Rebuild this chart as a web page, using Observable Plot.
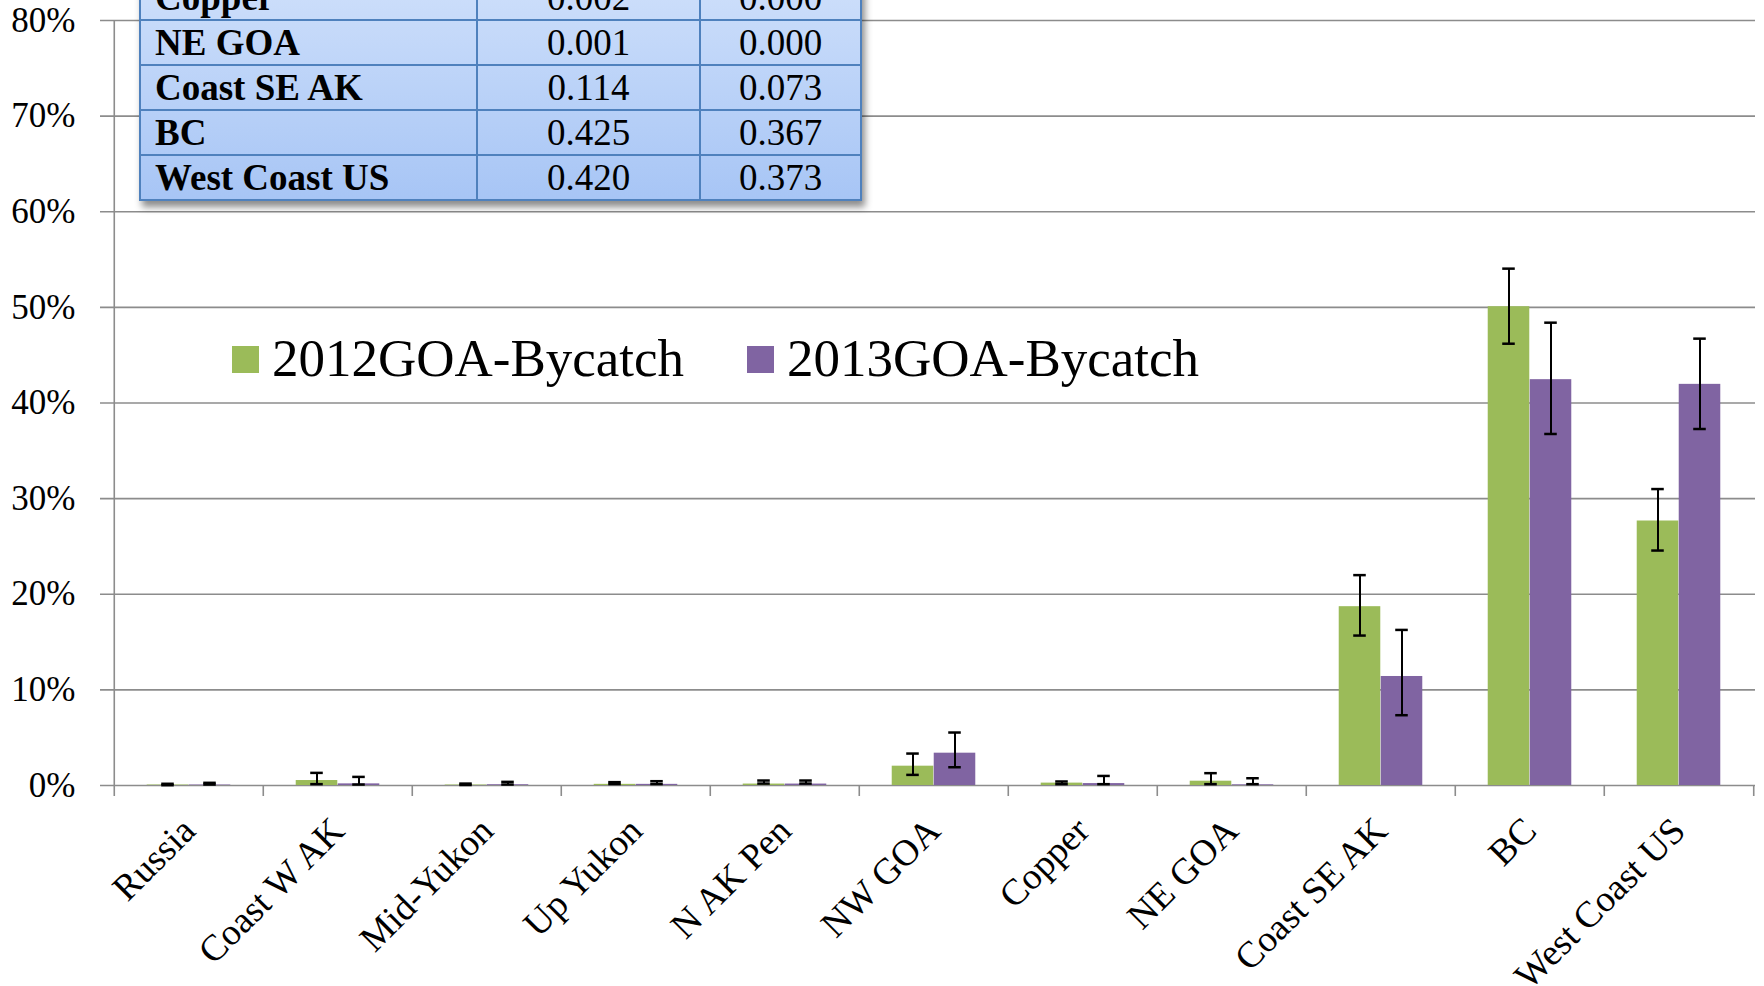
<!DOCTYPE html>
<html>
<head>
<meta charset="utf-8">
<script src="https://cdn.jsdelivr.net/npm/d3@7"></script>
<script src="https://cdn.jsdelivr.net/npm/@observablehq/plot@0.6"></script>
<style>
  html, body { margin: 0; padding: 0; background: #fff; }
  #wrap { position: relative; width: 1764px; height: 986px; overflow: hidden;
          font-family: "Liberation Serif", "Times New Roman", serif; }
  #chart { position: absolute; left: 0; top: 0; }
  #tbl { position: absolute; left: 139px; top: -26px; border-collapse: collapse; table-layout: fixed;
         background: linear-gradient(#cfe0fb, #a7c5f5); box-shadow: 3px 6px 7px rgba(0,0,0,0.45);
         font-size: 37px; color: #000; }
  #tbl td { border: 2px solid #4f81bd; height: 43px; padding: 0; line-height: 43px; white-space: nowrap; overflow: hidden; }
  #tbl td.n { font-weight: bold; padding-left: 14px; }
  #tbl td.v { text-align: center; }
  #legend { position: absolute; left: 0; top: 0; font-size: 53px; line-height: 53px; }
  .sw { position: absolute; width: 27px; height: 27px; }
  .lt { position: absolute; white-space: nowrap; }
</style>
</head>
<body>
<div id="wrap">
  <div id="chart"></div>
  <table id="tbl"><colgroup><col style="width:337px"><col style="width:223px"><col style="width:161px"></colgroup><tbody></tbody></table>
  <div id="legend"></div>
</div>
<script>
// ---- data ----
const categories = ["Russia", "Coast W AK", "Mid-Yukon", "Up Yukon", "N AK Pen", "NW GOA", "Copper", "NE GOA", "Coast SE AK", "BC", "West Coast US"];
const series = ["2012GOA-Bycatch", "2013GOA-Bycatch"];
const colors = ["#9bbb59", "#8064a2"];

const value2012 = [0.0005, 0.0052, 0.0005, 0.0012, 0.0015, 0.0202, 0.0025, 0.0045, 0.187, 0.5007, 0.2766];
const low2012   = [0.0003, 0.0014, 0.0005, 0.0015, 0.0020, 0.0111, 0.0014, 0.0014, 0.1568, 0.4620, 0.2457];
const high2012  = [0.0018, 0.0132, 0.0020, 0.0035, 0.0052, 0.0334, 0.0042, 0.0129, 0.2200, 0.5405, 0.3100];

const value2013 = [0.0005, 0.0017, 0.0008, 0.0012, 0.0015, 0.0338, 0.0020, 0.0007, 0.114, 0.4244, 0.4195];
const low2013   = [0.0010, 0.0010, 0.0010, 0.0015, 0.0020, 0.0191, 0.0014, 0.0014, 0.0735, 0.3676, 0.3728];
const high2013  = [0.0028, 0.0090, 0.0038, 0.0045, 0.0052, 0.0554, 0.0100, 0.0076, 0.1627, 0.4840, 0.4673];

const yTicks = [0, 0.1, 0.2, 0.3, 0.4, 0.5, 0.6, 0.7, 0.8];

// inset table (partially visible)
const tableRegions = ["Copper", "NE GOA", "Coast SE AK", "BC", "West Coast US"];
const tableCol1 = ["0.002", "0.001", "0.114", "0.425", "0.420"];
const tableCol2 = ["0.000", "0.000", "0.073", "0.367", "0.373"];

// ---- build ----
const values = [value2012, value2013], lows = [low2012, low2013], highs = [high2012, high2013];
const rows = series.flatMap((s, si) => categories.map((c, i) => ({
  cat: c, series: s, si, value: values[si][i], lo: lows[si][i], hi: highs[si][i]
})));

const W = 1764, H = 986, mL = 111, mR = 9, mT = 20, mB = 201;
const band = (W - mL - mR) / categories.length;
const barW = 42, capW = 13;
const gridColor = "#8c8c8c";
const font = "Liberation Serif";

const barMarks = [], errMarks = [];
[0, 1].forEach(si => {
  const d = rows.filter(r => r.si === si);
  const left = si === 0;
  barMarks.push(Plot.barY(d, {
    x: "cat", y: "value", fill: "series",
    insetLeft: left ? band / 2 - barW : band / 2,
    insetRight: left ? band / 2 : band / 2 - barW
  }));
  const dx = left ? -barW / 2 : barW / 2;
  errMarks.push(
    Plot.ruleX(d, {x: "cat", y1: "lo", y2: "hi", dx, stroke: "#000", strokeWidth: 2}),
    Plot.tickY(d, {x: "cat", y: "hi", dx, stroke: "#000", strokeWidth: 2.5, insetLeft: (band - capW) / 2, insetRight: (band - capW) / 2}),
    Plot.tickY(d, {x: "cat", y: "lo", dx, stroke: "#000", strokeWidth: 2.5, insetLeft: (band - capW) / 2, insetRight: (band - capW) / 2})
  );
});

const chart = Plot.plot({
  width: W, height: H,
  marginLeft: mL, marginRight: mR, marginTop: mT, marginBottom: mB,
  style: {fontFamily: font, fontSize: "35px", color: "#000", background: "transparent", overflow: "visible"},
  x: {type: "band", domain: categories, padding: 0},
  y: {domain: [0, 0.8]},
  color: {domain: series, range: colors},
  marks: [
    Plot.ruleY(yTicks, {y: d => d, stroke: gridColor, strokeWidth: 1.6, insetLeft: -11}),
    ...barMarks,
    ...errMarks,
    // value axis line
    Plot.ruleX([categories[0]], {x: d => d, y1: 0.8, y2: 0, dx: -band / 2, insetBottom: -11, stroke: gridColor, strokeWidth: 1.6}),
    // category boundary ticks
    Plot.ruleX(categories.slice(1), {x: d => d, y1: 0, y2: 0, dx: -band / 2, insetBottom: -11, stroke: gridColor, strokeWidth: 1.6}),
    Plot.ruleX([categories[categories.length - 1]], {x: d => d, y1: 0, y2: 0, dx: band / 2, insetBottom: -11, stroke: gridColor, strokeWidth: 1.6}),
    Plot.axisY({ticks: yTicks, tickFormat: d => `${Math.round(d * 100)}%`, tickSize: 0, tickPadding: 36, fontSize: 35, label: null}),
    Plot.axisX({tickSize: 0, tickPadding: 39, tickRotate: -45, dx: 0, fontSize: 37, label: null})
  ]
});
document.getElementById("chart").appendChild(chart);

// table
const tb = document.querySelector("#tbl tbody");
tableRegions.forEach((r, i) => {
  const tr = document.createElement("tr");
  [[r, "n"], [tableCol1[i], "v"], [tableCol2[i], "v"]].forEach(([t, c]) => {
    const td = document.createElement("td"); td.className = c; td.textContent = t; tr.appendChild(td);
  });
  tb.appendChild(tr);
});

// legend
const lg = document.getElementById("legend");
const legendPos = [{sw: 232, tx: 272}, {sw: 747, tx: 787}];
series.forEach((s, i) => {
  const sw = document.createElement("div");
  sw.className = "sw"; sw.style.left = legendPos[i].sw + "px"; sw.style.top = "346px"; sw.style.background = colors[i];
  lg.appendChild(sw);
  const t = document.createElement("div");
  t.className = "lt"; t.style.left = legendPos[i].tx + "px"; t.style.top = "332px"; t.textContent = s;
  lg.appendChild(t);
});
</script>
</body>
</html>
